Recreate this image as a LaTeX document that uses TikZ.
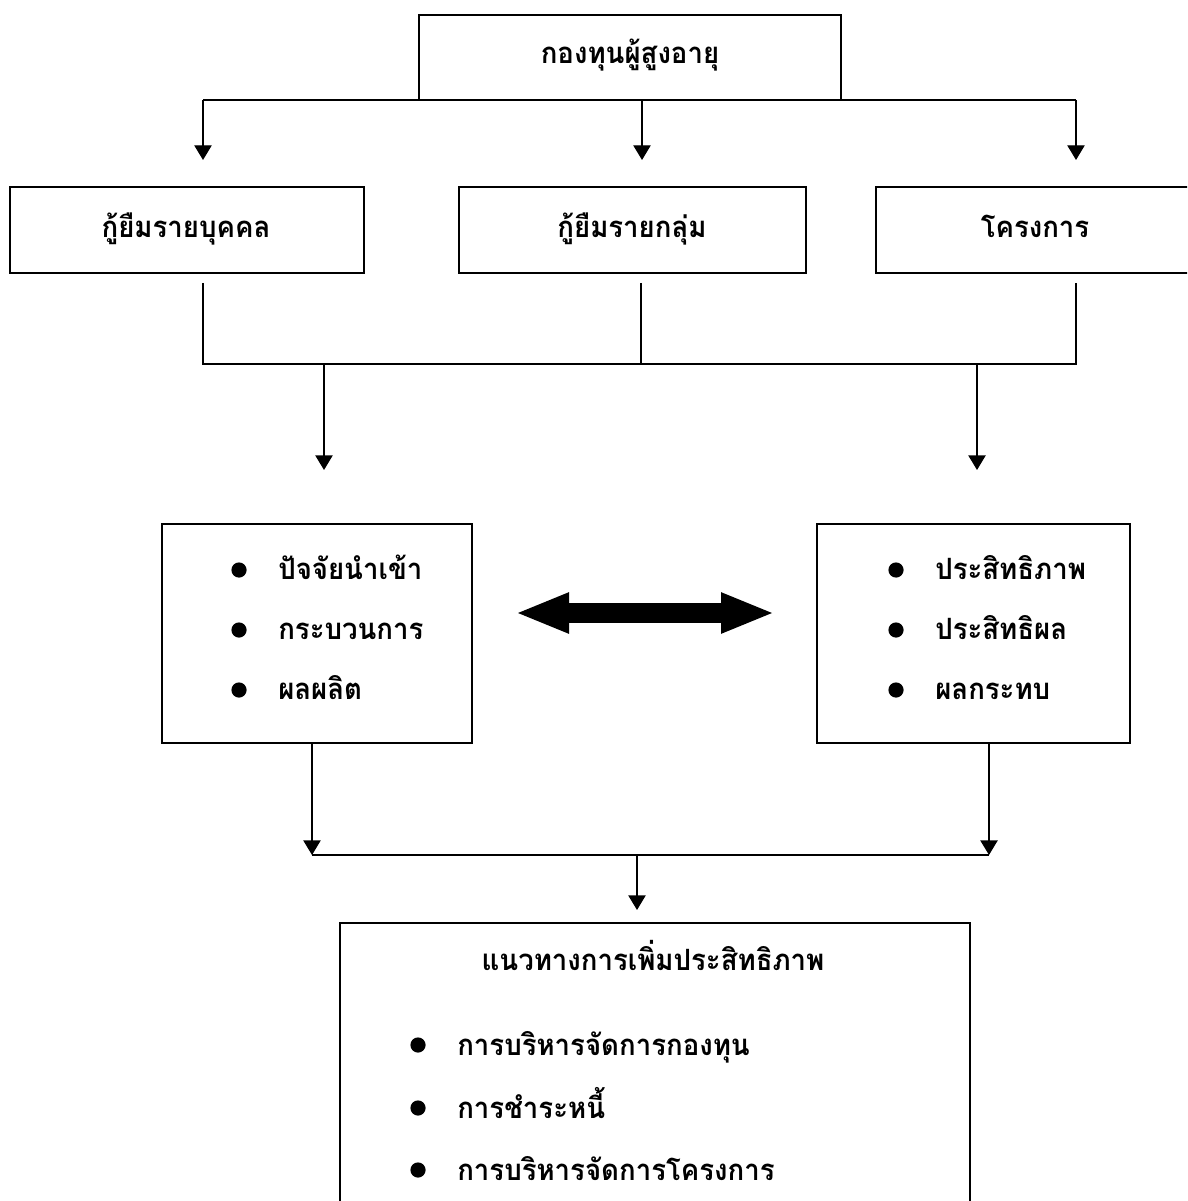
\documentclass[tikz,border=0pt]{standalone}
\usepackage{fontspec}
\newfontfamily\thaifont[Script=Thai]{Loma}
\usetikzlibrary{arrows.meta}
\newcommand{\thtxt}[1]{\scalebox{0.94}[1]{#1}}
\begin{document}
\begin{tikzpicture}[x=0.75pt,y=-0.75pt,
  box/.style={draw, line width=1.1pt, inner sep=0pt},
  lbl/.style={font=\thaifont\bfseries\fontsize{22}{26}\selectfont, inner sep=0pt},
  conn/.style={line width=1pt},
  arr/.style={conn,-{Triangle[width=13pt,length=11pt]}},
  bigarr/.style={line width=15pt,{Triangle[width=27.75pt,length=40.5pt]}-{Triangle[width=27.75pt,length=40.5pt]}}]
\useasboundingbox (0,0) rectangle (1187,1201);
\clip (0,0) rectangle (1187,1201);
\fill[white] (0,0) rectangle (1187,1201);
% boxes
\node[box, minimum width=316.5pt, minimum height=63.75pt] (top) at (630,57.5) {};
\node[box, minimum width=265.5pt, minimum height=64.5pt] (b1) at (187,230) {};
\node[box, minimum width=260.25pt, minimum height=64.5pt] (b2) at (632.5,230) {};
\node[box, minimum width=238.5pt, minimum height=64.5pt] (b3) at (1035,230) {};
\node[box, minimum width=232.5pt, minimum height=164.25pt] (m1) at (317,633.5) {};
\node[box, minimum width=234.75pt, minimum height=164.25pt] (m2) at (973.5,633.5) {};
\node[box, minimum width=472.5pt, minimum height=225pt] (bot) at (655,1073) {};
% labels
\node[lbl, anchor=base] (ttop) at (630,64) {\thtxt{กองทุนผู้สูงอายุ}};
\node[lbl, anchor=base] (tb1) at (186,238) {\thtxt{กู้ยืมรายบุคคล}};
\node[lbl, anchor=base] (tb2) at (632,238) {\thtxt{กู้ยืมรายกลุ่ม}};
\node[lbl, anchor=base] (tb3) at (1035,238) {\thtxt{โครงการ}};
\node[lbl, anchor=base west] (m1a) at (278,579) {\thtxt{ปัจจัยนำเข้า}};
\node[lbl, anchor=base west] (m1b) at (278,639) {\thtxt{กระบวนการ}};
\node[lbl, anchor=base west] (m1c) at (278,699) {\thtxt{ผลผลิต}};
\node[lbl, anchor=base west] (m2a) at (935,579) {\thtxt{ประสิทธิภาพ}};
\node[lbl, anchor=base west] (m2b) at (935,639) {\thtxt{ประสิทธิผล}};
\node[lbl, anchor=base west] (m2c) at (935,699) {\thtxt{ผลกระทบ}};
\node[lbl, anchor=base] (title) at (653,970) {\thtxt{แนวทางการเพิ่มประสิทธิภาพ}};
\node[lbl, anchor=base west] (ba) at (457,1055) {\thtxt{การบริหารจัดการกองทุน}};
\node[lbl, anchor=base west] (bb) at (457,1118) {\thtxt{การชำระหนี้}};
\node[lbl, anchor=base west] (bc) at (457,1180) {\thtxt{การบริหารจัดการโครงการ}};
% bullets
\foreach \x/\y in {239/570,239/630,239/690,896/570,896/630,896/690,418/1045,418/1108,418/1170}
  \fill (\x,\y) circle[radius=5.7pt];
% top distribution
\coordinate (tl) at (203,100);
\coordinate (tr) at (1076,100);
\draw[conn] (tl) -- (tr);
\draw[arr] (tl) -- (203,160);
\draw[arr] (642,100) -- (642,160);
\draw[arr] (tr) -- (1076,160);
% row 2 merge
\coordinate (j1) at (203,364);
\coordinate (j3) at (1076,364);
\draw[conn] (203,283) -- (j1) -- (j3) -- (1076,283);
\draw[conn] (641,283) -- (641,364);
\draw[arr] (324,364) -- (324,470);
\draw[arr] (977,364) -- (977,470);
% double arrow
\coordinate (da1) at (515,613);
\coordinate (da2) at (775,613);
\draw[bigarr] (da1) -- (da2);
% bottom merge
\coordinate (k1) at (312,855);
\coordinate (k2) at (989,855);
\draw[arr] (312,743) -- (k1);
\draw[arr] (989,743) -- (k2);
\draw[conn] (k1) -- (k2);
\draw[arr] (637,855) -- (637,910);
\end{tikzpicture}
\end{document}
